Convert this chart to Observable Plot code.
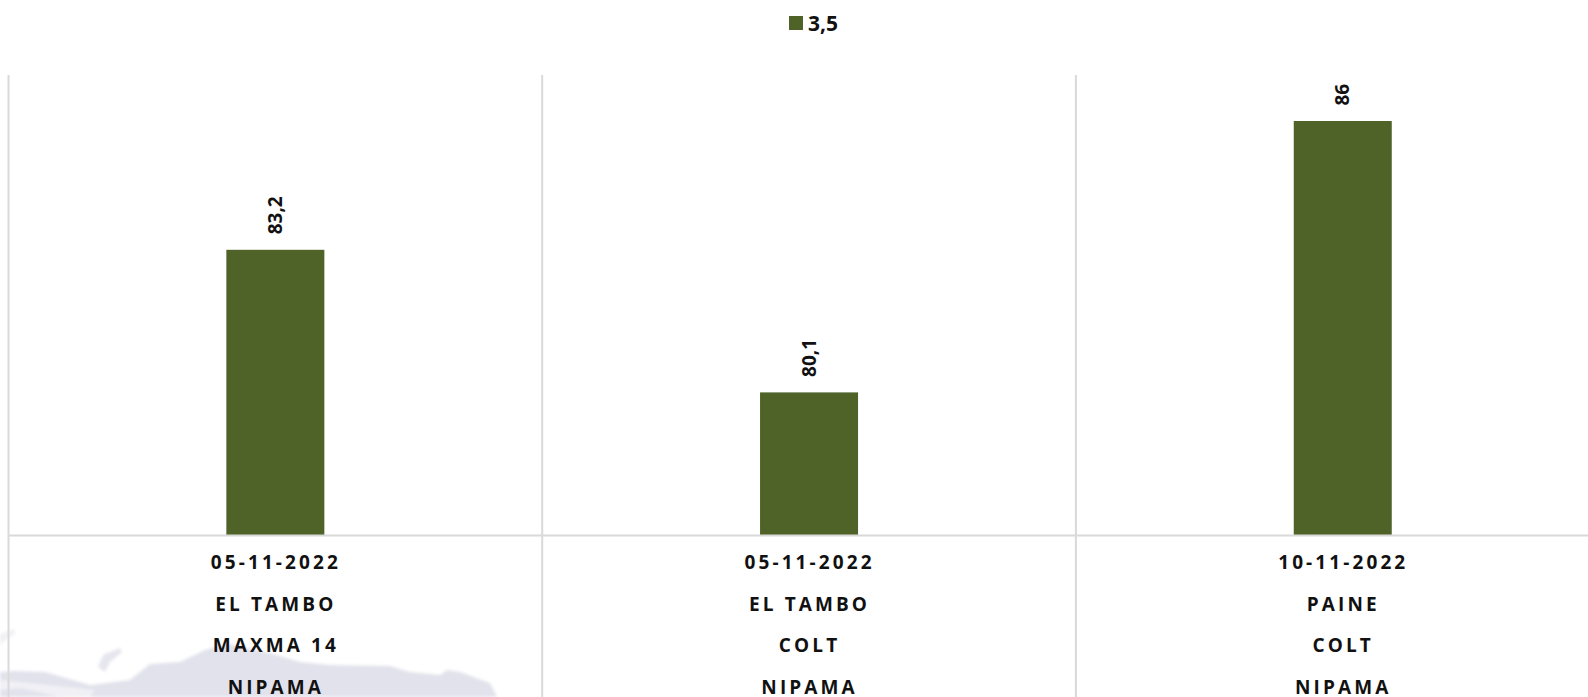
<!DOCTYPE html>
<html><head><meta charset="utf-8">
<script src="https://cdn.jsdelivr.net/npm/d3@7"></script>
<script src="https://cdn.jsdelivr.net/npm/@observablehq/plot@0.6"></script>
<style>
html,body{margin:0;padding:0;background:#fff;overflow:hidden;width:1588px;height:697px}
#c{position:absolute;left:0;top:0}
#c svg{overflow:hidden;background:transparent}
text[aria-label^="etiqueta"]{letter-spacing:3.1px}
#wmw{position:absolute;left:0;top:0;width:1588px;height:697px;filter:blur(1.5px)}
.wm{position:absolute;left:0;top:0;width:1588px;height:697px}
#wm1{background:#e2e2ec;clip-path:polygon(0 672px,15px 671px,45px 672px,90px 685px,130px 680px,150px 664px,180px 662px,205px 650px,228px 644px,270px 653px,300px 662px,330px 665px,390px 666px,410px 672px,440px 675px,447px 670px,460px 672px,490px 683px,497px 697px,0 697px)}
#wm2{background:#e6e6ee;clip-path:polygon(98px 667px,103px 655px,120px 648px,122px 652px,110px 662px,105px 672px)}
#wm3{background:#f1f1f5;clip-path:polygon(0 634px,14px 629px,16px 633px,6px 640px,0 645px)}
#wm4{background:#f0f0f5;clip-path:polygon(0 680px,40px 684px,95px 690px,90px 697px,60px 697px,20px 688px,0 690px)}
#lg{position:absolute;left:789px;top:16px;display:flex;align-items:center;font:bold 21px "Open Sans",sans-serif;color:#111;height:14px}
#lg i{display:block;width:14px;height:14px;background:#4f6228;margin-right:5px}
</style></head><body>
<div id="wmw"><div class="wm" id="wm1"></div><div class="wm" id="wm2"></div><div class="wm" id="wm3"></div><div class="wm" id="wm4"></div></div>
<div id="lg"><i></i><span id="lgt"></span></div>
<div id="c"></div>
<script>
const fechas=["05-11-2022","05-11-2022","10-11-2022"];
const lugares=["EL TAMBO","EL TAMBO","PAINE"];
const variedades=["MAXMA 14","COLT","COLT"];
const productos=["NIPAMA","NIPAMA","NIPAMA"];
const valores=[83.2,80.1,86];
const etiquetasValor=["83,2","80,1","86"];
const serie="3,5";
const color="#4f6228", grid="#d9d9d9";
const idx=[0,1,2];
const step=533.7, barW=98, inset=(step-barW)/2;
document.getElementById("lgt").textContent=serie;
const label=i=>[fechas[i],lugares[i],variedades[i],productos[i]].join("\n");
const chart=Plot.plot({
  width:1588,height:697,marginTop:75,marginBottom:162,marginLeft:8.5,marginRight:0,
  style:{background:"transparent"},
  x:{type:"band",domain:idx,range:[8.5,8.5+3*step],padding:0,round:false,axis:null},
  y:{domain:[77,87],axis:null},
  marks:[
    Plot.barY(idx,{x:i=>i,y1:77,y2:i=>valores[i],fill:color,insetLeft:inset,insetRight:inset}),
    Plot.ruleX(idx,{x:i=>i,dx:-step/2-0.5,y1:87,y2:73.4,stroke:grid,strokeWidth:2}),
    Plot.ruleY([77],{stroke:grid,strokeWidth:2}),
    Plot.text(idx,{x:i=>i,y:i=>valores[i],text:i=>etiquetasValor[i],rotate:-90,textAnchor:"start",dy:-16,fontSize:19,fontWeight:"bold",fontFamily:"Open Sans",fill:"#111"}),
    Plot.text(idx,{x:i=>i,y:77,text:label,ariaLabel:i=>"etiqueta "+i,lineAnchor:"top",dy:4,lineHeight:2.19,fontSize:19,fontWeight:"bold",fontFamily:"Open Sans",fill:"#111"})
  ]
});
document.getElementById("c").append(chart);
</script></body></html>
